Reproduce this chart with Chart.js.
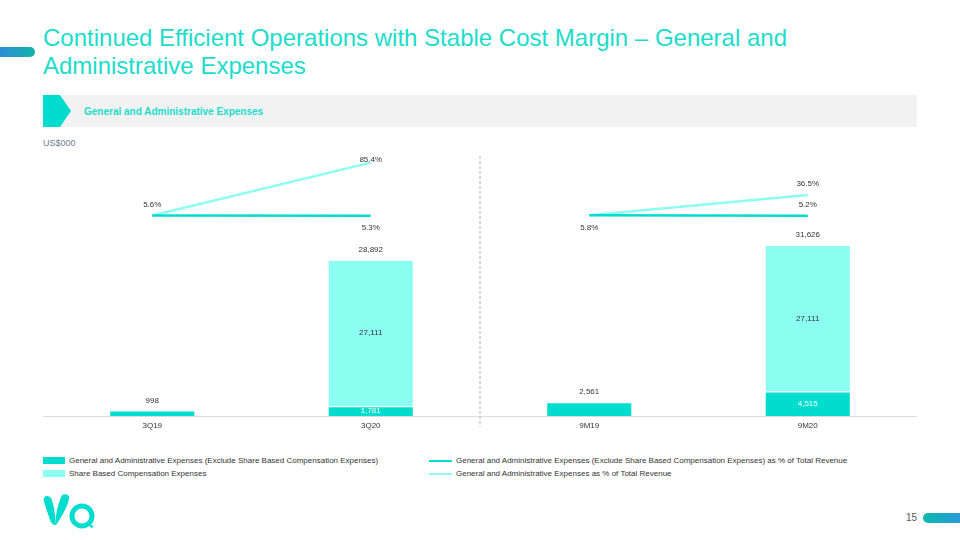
<!DOCTYPE html>
<html>
<head>
<meta charset="utf-8">
<script src="https://cdn.jsdelivr.net/npm/chart.js@4.4.0/dist/chart.umd.min.js"></script>
<style>
  body { margin: 0; width: 960px; height: 540px; background: #fff; font-family: "Liberation Sans", Arial, sans-serif; position: relative; overflow: hidden; }
  .accent { position: absolute; left: 0; top: 47px; width: 35px; height: 10px; border-radius: 0 5px 5px 0; background: linear-gradient(90deg, #2b8ed9, #12b3a8); }
  .title { position: absolute; left: 43px; top: 24px; font-size: 24px; line-height: 28px; color: #1ddccb; }
  .band { position: absolute; left: 43px; top: 95px; width: 874px; height: 32px; background: #f2f2f2; }
  .band svg { position: absolute; left: 0; top: 0; }
  .band span { position: absolute; left: 41px; top: 11px; font-size: 10px; font-weight: bold; color: #1ddccb; }
  .unit { position: absolute; left: 43px; top: 138px; font-size: 9px; color: #6b7c93; }
  #wrap { position: absolute; left: 43px; top: 150px; width: 874px; height: 286px; }
  #legend { position: absolute; left: 43px; top: 456px; width: 874px; font-size: 8px; color: #333; }
  .li { position: absolute; height: 10px; line-height: 10px; white-space: nowrap; }
  .li i { display: inline-block; vertical-align: middle; margin-right: 4px; }
  .pg { position: absolute; left: 906px; top: 512px; font-size: 10px; color: #555; }
  .pill { position: absolute; left: 923px; top: 513px; width: 40px; height: 10px; border-radius: 5px 0 0 5px; background: linear-gradient(90deg, #0bb9ad, #2b97df); }
  .logo { position: absolute; left: 40px; top: 492px; }
</style>
</head>
<body>
<div class="accent"></div>
<div class="title">Continued Efficient Operations with Stable Cost Margin – General and<br>Administrative Expenses</div>
<div class="band">
  <svg width="30" height="32"><polygon points="0,0 17,0 28,16 17,32 0,32" fill="#00ddce"/></svg>
  <span>General and Administrative Expenses</span>
</div>
<div class="unit">US$000</div>
<div id="wrap"><canvas id="gaChart"></canvas></div>
<div id="legend"></div>
<div class="pg">15</div>
<div class="pill"></div>
<svg class="logo" width="60" height="42" viewBox="0 0 60 42">
  <path d="M4,10 C2,4 8,2 11,6 C14,12 15,22 16,33 C13,33 11,31 10,28 C8,22 6,16 4,10 Z" fill="#00ddce"/>
  <path d="M22,3 C26,1 30,3 29,7 C27,16 21,26 16,33 C15,26 17,14 22,3 Z" fill="#00ddce"/>
  <circle cx="42" cy="24" r="10" fill="none" stroke="#00ddce" stroke-width="5"/>
  <path d="M37,28 L47,20" stroke="#fff" stroke-width="2"/>
  <path d="M48,30 L54,35 L51,36 Z" fill="#00ddce"/>
</svg>
<script>
// data
const categories = ['3Q19', '3Q20', '9M19', '9M20'];
const gaExSbc = [998, 1781, 2561, 4515];
const sbc = [0, 27111, 0, 27111];
const gaExSbcPct = [5.6, 5.3, 5.8, 5.2];
const gaTotalPct = [5.6, 85.4, 5.8, 36.5];

const darkTeal = '#00ddce';
const lightTeal = '#8cfff3';

function fmt(v) {
    return v.toLocaleString('en-US');
}

// labels for bars and lines
const labelPlugin = {
    id: 'labels',
    afterDatasetsDraw(chart) {
        const ctx = chart.ctx;
        ctx.save();
        ctx.textAlign = 'center';
        ctx.textBaseline = 'middle';
        ctx.font = '8px "Liberation Sans", Arial, sans-serif';

        const barBase = chart.getDatasetMeta(0);
        const barTop = chart.getDatasetMeta(1);
        categories.forEach((c, i) => {
            const b = barBase.data[i];
            if (sbc[i] > 0) {
                // stacked: base value sits inside its segment
                ctx.fillStyle = '#ffffff';
                ctx.fillText(fmt(gaExSbc[i]), b.x, (b.y + b.base) / 2);
                const t = barTop.data[i];
                ctx.fillStyle = '#333';
                ctx.fillText(fmt(sbc[i]), t.x, (t.y + t.base) / 2);
                ctx.fillText(fmt(gaExSbc[i] + sbc[i]), t.x, t.y - 10);
            } else {
                ctx.fillStyle = '#333';
                ctx.fillText(fmt(gaExSbc[i]), b.x, b.y - 10);
            }
        });

        [2, 3].forEach(di => {
            const ds = chart.data.datasets[di];
            const meta = chart.getDatasetMeta(di);
            meta.data.forEach((p, i) => {
                const off = ds.labelOffsets[i];
                if (off === null) return;
                ctx.fillStyle = '#333';
                ctx.fillText(ds.data[i].toFixed(1) + '%', p.x, p.y + off);
            });
        });

        // dashed divider between quarter and nine-month groups
        const x = chart.scales.x.getPixelForValue(1.5);
        ctx.strokeStyle = '#b0b0b0';
        ctx.lineWidth = 1;
        ctx.setLineDash([3, 2]);
        ctx.beginPath();
        ctx.moveTo(x, chart.chartArea.top + 6);
        ctx.lineTo(x, chart.chartArea.bottom + 11);
        ctx.stroke();
        ctx.restore();
    }
};

const hideGap = ctx => ctx.p0DataIndex === 1 ? 'rgba(0,0,0,0)' : undefined;

const gaChart = new Chart(document.getElementById('gaChart'), {
    type: 'bar',
    data: {
        labels: categories,
        datasets: [
            {
                type: 'bar',
                label: 'General and Administrative Expenses (Exclude Share Based Compensation Expenses)',
                data: gaExSbc,
                backgroundColor: darkTeal,
                borderColor: '#ffffff',
                borderWidth: 1,
                yAxisID: 'y',
                stack: 's',
                order: 2
            },
            {
                type: 'bar',
                label: 'Share Based Compensation Expenses',
                data: sbc,
                backgroundColor: lightTeal,
                borderColor: '#ffffff',
                borderWidth: 1,
                yAxisID: 'y',
                stack: 's',
                order: 2
            },
            {
                type: 'line',
                label: 'General and Administrative Expenses (Exclude Share Based Compensation Expenses) as % of Total Revenue',
                data: gaExSbcPct,
                borderColor: darkTeal,
                borderWidth: 2.5,
                pointRadius: 0,
                yAxisID: 'y2',
                segment: { borderColor: hideGap },
                labelOffsets: [-11, 12, 12, -11],
                order: 0
            },
            {
                type: 'line',
                label: 'General and Administrative Expenses as % of Total Revenue',
                data: gaTotalPct,
                borderColor: lightTeal,
                borderWidth: 2.5,
                pointRadius: 0,
                yAxisID: 'y2',
                segment: { borderColor: hideGap },
                labelOffsets: [null, -3, null, -11],
                order: 1
            }
        ]
    },
    options: {
        responsive: true,
        maintainAspectRatio: false,
        animation: false,
        layout: { padding: 0 },
        datasets: {
            bar: { categoryPercentage: 1, barPercentage: 0.394 }
        },
        plugins: {
            legend: { display: false },
            tooltip: { enabled: false }
        },
        scales: {
            x: {
                grid: { display: false, drawTicks: false },
                border: { display: true, color: '#dcdcdc', width: 1 },
                ticks: { color: '#333', font: { size: 8, family: '"Liberation Sans", Arial' }, padding: 5 },
                afterFit: s => { s.height = 20; }
            },
            y: { display: false, stacked: true, min: 0, max: 49210 },
            y2: { display: false, min: -297.3, max: 104.5 }
        }
    },
    plugins: [labelPlugin]
});

// legend in two columns, built from the chart's datasets
const legendEl = document.getElementById('legend');
const slots = [[0, 0], [0, 13], [386, 0], [386, 13]];
gaChart.data.datasets.forEach((ds, i) => {
    const d = document.createElement('div');
    d.className = 'li';
    d.style.left = slots[i][0] + 'px';
    d.style.top = slots[i][1] + 'px';
    const sw = document.createElement('i');
    if (ds.type === 'bar') {
        sw.style.cssText = 'width:22px;height:7px;background:' + ds.backgroundColor;
    } else {
        sw.style.cssText = 'width:23px;height:2px;background:' + ds.borderColor;
    }
    d.appendChild(sw);
    d.appendChild(document.createTextNode(ds.label));
    legendEl.appendChild(d);
});
</script>
</body>
</html>
